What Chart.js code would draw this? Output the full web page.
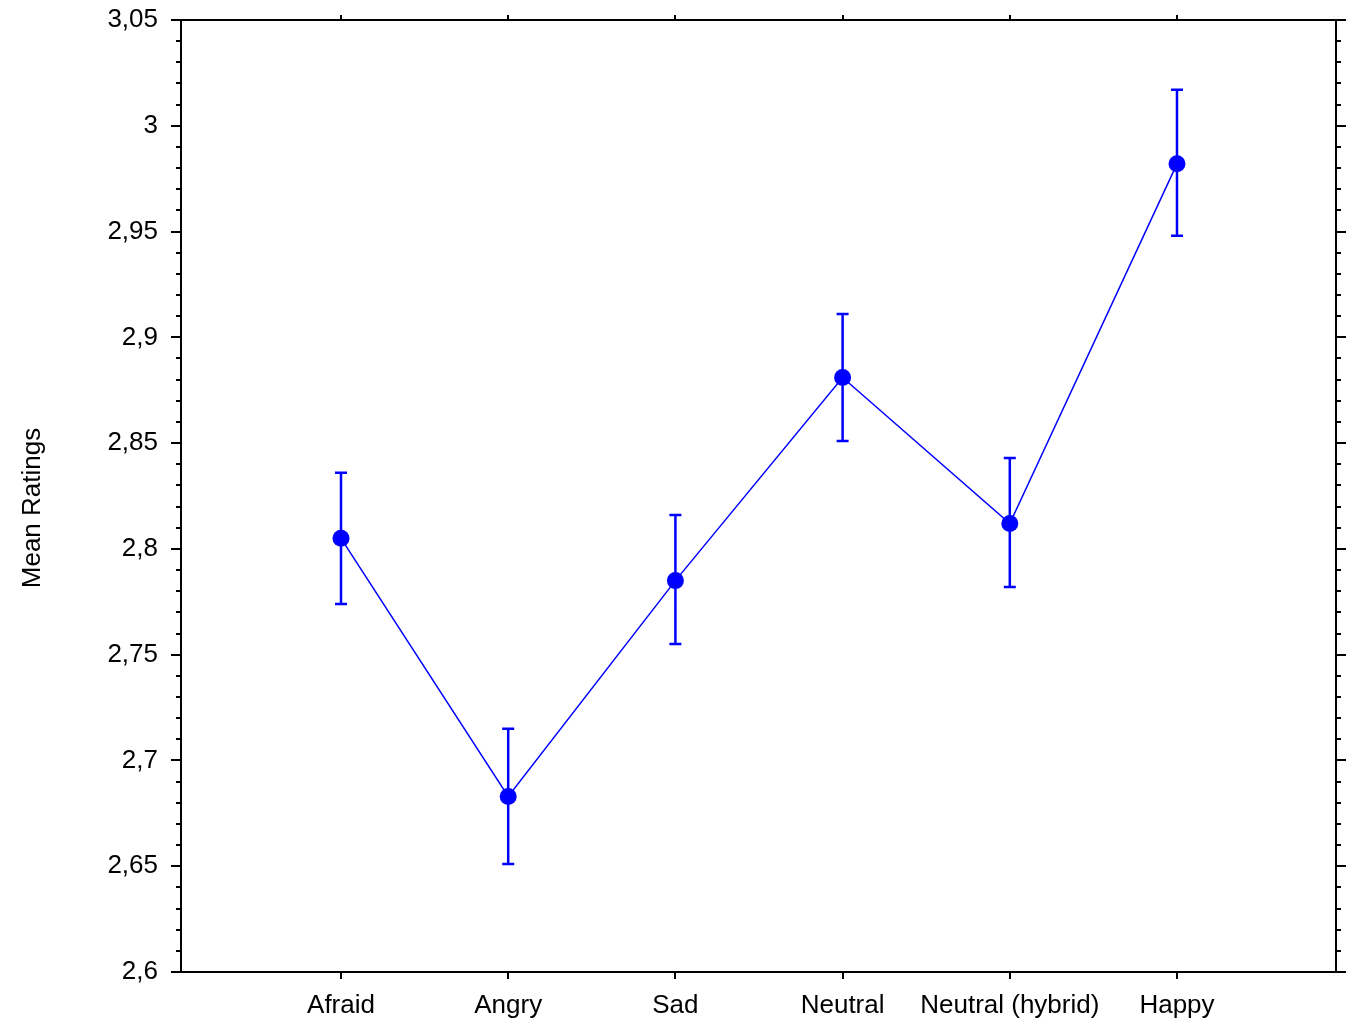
<!DOCTYPE html>
<html>
<head>
<meta charset="utf-8">
<script src="https://cdn.jsdelivr.net/npm/chart.js@4.4.0/dist/chart.umd.min.js"></script>
<style>
  html, body { margin: 0; padding: 0; background: #fff; }
  #wrap { width: 1358px; height: 1032px; }
</style>
</head>
<body>
<div id="wrap"><canvas id="chart" width="1358" height="1032"></canvas></div>
<script>
const categories = ['Afraid', 'Angry', 'Sad', 'Neutral', 'Neutral (hybrid)', 'Happy'];
const means = [2.805, 2.683, 2.785, 2.881, 2.812, 2.982];
const upper = [2.836, 2.715, 2.816, 2.911, 2.843, 3.017];
const lower = [2.774, 2.651, 2.755, 2.851, 2.782, 2.948];
const yMin = 2.6, yMax = 3.05, yStep = 0.05, yMinor = 0.01;

const FONT = '"Liberation Sans", Arial, sans-serif';
const BLUE = '#0000ff';

// error bars, frame, minor ticks
const decor = {
  id: 'decor',
  beforeDatasetsDraw(chart) {
    const ctx = chart.ctx;
    const a = chart.chartArea;
    const x = chart.scales.x, y = chart.scales.y;
    ctx.save();
    ctx.strokeStyle = '#000';
    ctx.lineWidth = 2;
    ctx.strokeRect(a.left, a.top, a.right - a.left, a.bottom - a.top);

    ctx.lineWidth = 2;
    ctx.beginPath();
    const n = Math.round((yMax - yMin) / yMinor);
    for (let i = 0; i <= n; i++) {
      const v = yMin + i * yMinor;
      const py = Math.round(y.getPixelForValue(v));
      const major = i % 5 === 0;
      const len = major ? 10 : 5;
      ctx.moveTo(a.left - len, py);
      ctx.lineTo(a.left, py);
      ctx.moveTo(a.right, py);
      ctx.lineTo(a.right + len, py);
    }
    categories.forEach((c, i) => {
      const px = Math.round(x.getPixelForValue(i + 1));
      ctx.moveTo(px, a.bottom);
      ctx.lineTo(px, a.bottom + 7);
      ctx.moveTo(px, a.top);
      ctx.lineTo(px, a.top - 5);
    });
    ctx.stroke();

    // error bars
    ctx.strokeStyle = BLUE;
    ctx.lineWidth = 2.5;
    ctx.beginPath();
    means.forEach((m, i) => {
      const px = x.getPixelForValue(i + 1);
      const pt = y.getPixelForValue(upper[i]);
      const pb = y.getPixelForValue(lower[i]);
      ctx.moveTo(px, pt); ctx.lineTo(px, pb);
      ctx.moveTo(px - 6, pt); ctx.lineTo(px + 6, pt);
      ctx.moveTo(px - 6, pb); ctx.lineTo(px + 6, pb);
    });
    ctx.stroke();

    // axis title
    ctx.fillStyle = '#000';
    ctx.font = '26px ' + FONT;
    ctx.textAlign = 'center';
    ctx.textBaseline = 'middle';
    ctx.translate(33, 508);
    ctx.rotate(-Math.PI / 2);
    ctx.fillText('Mean Ratings', 0, 0);
    ctx.restore();
  }
};

new Chart(document.getElementById('chart'), {
  type: 'line',
  data: {
    datasets: [{
      data: means.map((m, i) => ({ x: i + 1, y: m })),
      borderColor: BLUE,
      backgroundColor: BLUE,
      borderWidth: 1.5,
      pointRadius: 8.5,
      pointHoverRadius: 8.5,
      pointBorderWidth: 0,
      tension: 0
    }]
  },
  options: {
    responsive: false,
    animation: false,
    layout: { padding: { top: 20, right: 22, left: 0, bottom: 0 } },
    plugins: { legend: { display: false }, tooltip: { enabled: false } },
    scales: {
      x: {
        type: 'linear',
        min: 0.043,
        max: 6.951,
        grid: { display: false },
        border: { display: false },
        afterBuildTicks: s => { s.ticks = categories.map((c, i) => ({ value: i + 1 })); },
        afterFit: s => { s.height = 60; s.paddingLeft = 0; s.paddingRight = 0; },
        ticks: {
          autoSkip: false,
          maxRotation: 0,
          padding: 10,
          color: '#000',
          font: { family: FONT, size: 26 },
          callback: v => categories[v - 1]
        }
      },
      y: {
        min: yMin,
        max: yMax,
        grid: { display: false },
        border: { display: false },
        afterBuildTicks: s => {
          const t = [];
          for (let v = yMin; v <= yMax + 1e-9; v += yStep) t.push({ value: Math.round(v * 100) / 100 });
          s.ticks = t;
        },
        afterFit: s => { s.width = 181; s.paddingTop = 0; s.paddingBottom = 0; },
        ticks: {
          padding: 15,
          color: '#000',
          font: { family: FONT, size: 26 },
          callback: v => String(Math.round(v * 100) / 100).replace('.', ',')
        }
      }
    }
  },
  plugins: [decor]
});
</script>
</body>
</html>
